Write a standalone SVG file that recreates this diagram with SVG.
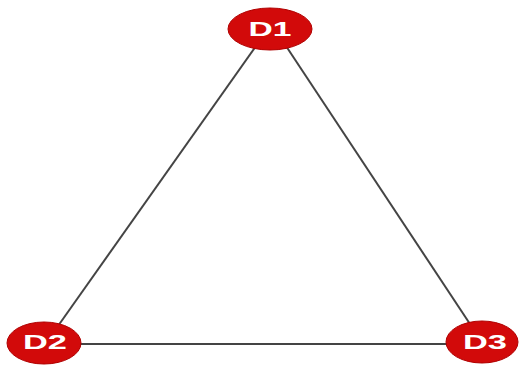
<svg xmlns="http://www.w3.org/2000/svg" width="519" height="366" viewBox="0 0 519 366">
<style>
.node{fill:#d20a0a;stroke:#b00000;stroke-width:1}
.lbl{font-family:"Liberation Sans",Arial,sans-serif;font-weight:bold;font-size:21px;fill:#ffffff;text-anchor:middle;dominant-baseline:central}
.edge{stroke:#444444;stroke-width:2;fill:none}
</style>
<rect width="519" height="366" fill="#ffffff"/>
<g id="connectors">
<line class="edge" x1="256" y1="46" x2="58" y2="326"/>
<line class="edge" x1="286" y1="46" x2="470" y2="324"/>
<line class="edge" x1="80" y1="344" x2="448" y2="344"/>
</g>
<g id="D1"><ellipse class="node" cx="270" cy="29" rx="42" ry="21"/><text class="lbl" x="270" y="28" textLength="43" lengthAdjust="spacingAndGlyphs">D1</text></g>
<g id="D2"><ellipse class="node" cx="44" cy="343" rx="37" ry="21"/><text class="lbl" x="45" y="341" textLength="44" lengthAdjust="spacingAndGlyphs">D2</text></g>
<g id="D3"><ellipse class="node" cx="482" cy="342" rx="36" ry="21"/><text class="lbl" x="485" y="341" textLength="44" lengthAdjust="spacingAndGlyphs">D3</text></g>
</svg>
